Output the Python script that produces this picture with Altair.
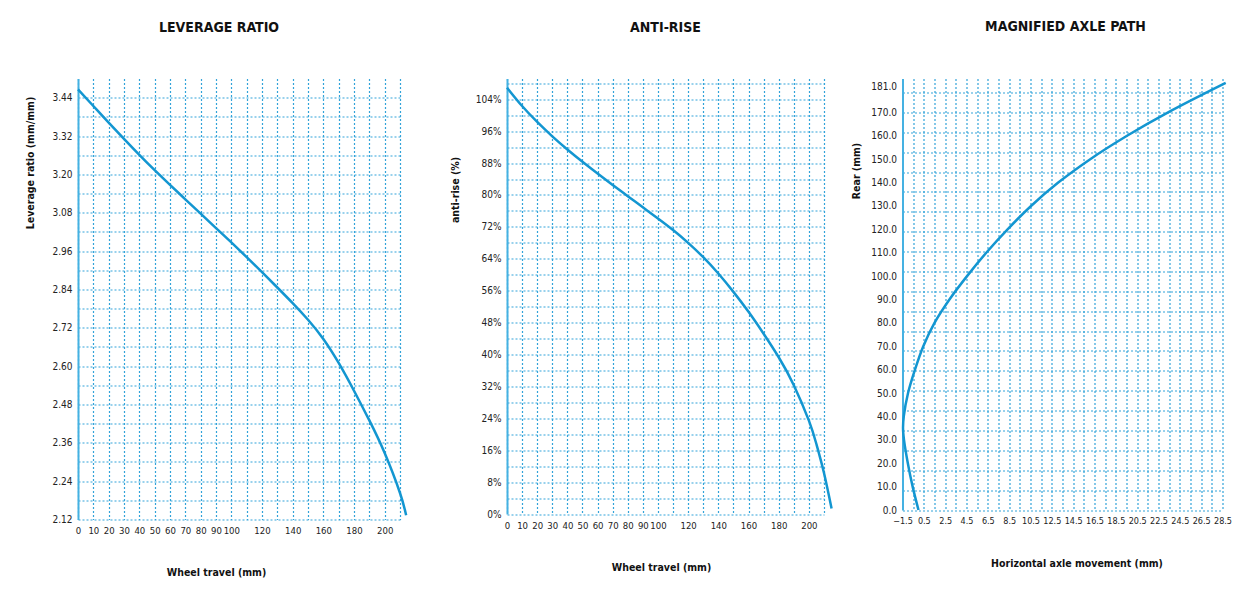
import json
import altair as alt
import pandas as pd

# ---------------- data ----------------
# Leverage ratio vs wheel travel
lev_travel = [0, 10, 20, 30, 40, 50, 60, 70, 80, 90, 100, 110, 120, 130, 140, 150,
              160, 170, 180, 190, 200, 210, 214]
lev_ratio = [3.466, 3.414, 3.362, 3.311, 3.261, 3.213, 3.167, 3.122, 3.077, 3.032, 2.987,
             2.941, 2.894, 2.846, 2.797, 2.745, 2.685, 2.610, 2.523, 2.430, 2.328, 2.203, 2.133]

# Anti-rise vs wheel travel
ar_travel = [0, 10, 20, 30, 40, 50, 60, 70, 80, 90, 100, 110, 120, 130, 140, 150, 160,
             170, 180, 190, 200, 205, 210, 215]
ar_pct = [106.9, 102.3, 98.3, 94.7, 91.4, 88.3, 85.35, 82.5, 79.7, 76.9, 74.1, 71.2, 68.0,
          64.4, 60.3, 55.7, 50.7, 45.2, 39.3, 32.3, 23.4, 17.5, 10.3, 1.4]

# Magnified axle path (horizontal movement vs rear travel)
axle_rear = [0, 10, 20, 30, 35, 40, 50, 60, 70, 80, 90, 100, 110, 120, 130, 140, 150,
             160, 170, 182.6]
axle_horiz = [0.0, -0.55, -1.0, -1.36, -1.45, -1.38, -0.98, -0.33, 0.45, 1.5, 2.9, 4.55,
              6.35, 8.35, 10.55, 13.1, 16.1, 19.55, 23.4, 28.8]

# tick labels
travel_labels = [0, 10, 20, 30, 40, 50, 60, 70, 80, 90, 100, 120, 140, 160, 180, 200]
lev_labels = [2.12, 2.24, 2.36, 2.48, 2.6, 2.72, 2.84, 2.96, 3.08, 3.2, 3.32, 3.44]
ar_labels = [0, 8, 16, 24, 32, 40, 48, 56, 64, 72, 80, 88, 96, 104]
axle_x_labels = [-1.5, 0.5, 2.5, 4.5, 6.5, 8.5, 10.5, 12.5, 14.5, 16.5, 18.5, 20.5,
                 22.5, 24.5, 26.5, 28.5]
axle_y_labels = [0, 10, 20, 30, 40, 50, 60, 70, 80, 90, 100, 110, 120, 130, 140, 150,
                 160, 170, 181]

# grid positions (style)
travel_grid = list(range(0, 211, 10))
lev_grid = [round(2.12 + 0.06 * k, 2) for k in range(23)]
ar_grid = list(range(0, 109, 4))
axle_x_grid = [-1.5 + k for k in range(31)]
axle_y_grid = [round(8.5 * k, 1) for k in range(22)]

LINE = "#1396d1"
GRID = "#32a3d9"
DOMAIN = "#45b1e2"
FONT = "DejaVu Sans Condensed, Liberation Sans Narrow, sans-serif"


def only(labels, text="datum.label"):
    return "indexof(" + json.dumps(labels) + ", datum.value) >= 0 ? " + text + " : ''"


def title(text, dx):
    return alt.TitleParams(text, dx=dx, offset=43.5, anchor="middle", font=FONT,
                           fontSize=14, fontWeight="bold", color="#111111")


xaxis_common = dict(domain=False, ticks=False, tickSize=0, labelPadding=6,
                    labelOverlap=False, labelFlush=False, labelFontSize=9.5,
                    titleBaseline="middle", titleAlign="center", grid=True)
yaxis_common = dict(domain=True, domainColor=DOMAIN, domainWidth=2, ticks=False,
                    tickSize=0, labelPadding=6, labelOverlap=False, labelFlush=False,
                    titleBaseline="middle", titleAlign="center", titleAngle=270, grid=True)

# ---------------- panel 1 ----------------
lev_df = pd.DataFrame({"travel": lev_travel, "ratio": lev_ratio})
p1 = alt.Chart(lev_df).mark_line(color=LINE, strokeWidth=2.5, interpolate="natural",
                                 clip=False).encode(
    x=alt.X("travel:Q", scale=alt.Scale(domain=[0, 210], nice=False, zero=False),
            axis=alt.Axis(values=travel_grid, labelExpr=only(travel_labels),
                          title="Wheel travel (mm)", titleX=138, titleY=53, **xaxis_common)),
    y=alt.Y("ratio:Q", scale=alt.Scale(domain=[2.12, 3.5], nice=False, zero=False),
            axis=alt.Axis(values=lev_grid, format=".2f", labelExpr=only(lev_labels),
                          title="Leverage ratio (mm/mm)", titleX=-48, titleY=84,
                          **yaxis_common)),
).properties(width=322, height=441, title=title("LEVERAGE RATIO", -20))

# ---------------- panel 2 ----------------
ar_df = pd.DataFrame({"travel": ar_travel, "pct": ar_pct})
p2 = alt.Chart(ar_df).mark_line(color=LINE, strokeWidth=2.5, interpolate="natural",
                                clip=False).encode(
    x=alt.X("travel:Q", scale=alt.Scale(domain=[0, 210], nice=False, zero=False),
            axis=alt.Axis(values=travel_grid, labelExpr=only(travel_labels),
                          title="Wheel travel (mm)", titleX=154, titleY=53, **xaxis_common)),
    y=alt.Y("pct:Q", scale=alt.Scale(domain=[0, 109.2], nice=False, zero=False),
            axis=alt.Axis(values=ar_grid, labelExpr=only(ar_labels, "datum.value + '%'"),
                          title="anti-rise (%)", titleX=-52, titleY=111, **yaxis_common)),
).properties(width=317, height=435.5, title=title("ANTI-RISE", 0))

# ---------------- panel 3 ----------------
axle_df = pd.DataFrame({"h": axle_horiz, "r": axle_rear, "i": list(range(len(axle_rear)))})
x3 = alt.X("h:Q", scale=alt.Scale(domain=[-1.5, 28.5], nice=False, zero=False),
           axis=alt.Axis(values=axle_x_grid, format=".1f", labelExpr=only(axle_x_labels),
                         title="Horizontal axle movement (mm)", titleX=174, titleY=53,
                         **{**xaxis_common, "labelFontSize": 9}))
yscale3 = alt.Scale(domain=[0, 184.5], nice=False, zero=False)
grid3 = alt.Chart(axle_df).mark_line(strokeOpacity=0).encode(
    x=x3,
    y=alt.Y("r:Q", scale=yscale3,
            axis=alt.Axis(values=axle_y_grid, grid=True, labels=False, ticks=False,
                          domain=False, title=None, orient="left")),
    order="i:Q",
)
line3 = alt.Chart(axle_df).mark_line(color=LINE, strokeWidth=2.5,
                                     interpolate="catmull-rom", clip=False).encode(
    x=x3,
    y=alt.Y("r:Q", scale=yscale3,
            axis=alt.Axis(values=axle_y_labels, format=".1f", orient="left",
                          title="Rear (mm)", titleX=-46, titleY=92,
                          **{**yaxis_common, "grid": False})),
    order="i:Q",
)
p3 = alt.layer(grid3, line3).resolve_axis(y="independent").properties(
    width=320, height=431.5, title=title("MAGNIFIED AXLE PATH", 3))

inner = alt.hconcat(p1, p2, spacing=38)
chart = alt.hconcat(inner, p3, spacing=14.5).properties(
    padding={"left": 25, "top": 19.5, "right": 0, "bottom": 0}
).configure_view(stroke=None).configure_axis(
    labelFont=FONT, labelFontSize=10, labelColor="#222222",
    titleFont=FONT, titleFontSize=10.5, titleFontWeight="bold", titleColor="#111111",
    gridColor=GRID, gridDash=[2, 2], gridWidth=1.2, gridOpacity=1,
)

chart.save("out.html", embed_options={"renderer": "svg", "actions": False})
